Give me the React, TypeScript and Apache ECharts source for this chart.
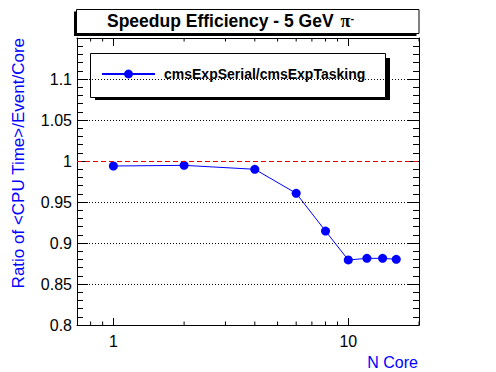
import React, { useEffect, useRef } from "react";
import * as echarts from "echarts";

const nCores = [1, 2, 4, 6, 8, 10, 12, 14, 16];
const ratios = [0.9939, 0.9947, 0.9899, 0.9606, 0.9146, 0.8793, 0.8813, 0.8813, 0.8801];
const seriesName = "cmsExpSerial/cmsExpTasking";
const xMinorTicks = [0.8, 0.9, 2, 3, 4, 5, 6, 7, 8, 9, 20];
const gridValues = [0.85, 0.9, 0.95, 1.05, 1.1];
const refValue = 1.0;
const yMin = 0.8;
const yMax = 1.15;
const xMin = 0.7;
const xMax = 20;

const FONT = "'Liberation Sans', Arial, Helvetica, sans-serif";

export default function App() {
  const ref = useRef<HTMLDivElement>(null);
  useEffect(() => {
    if (!ref.current) return;
    const chart = echarts.init(ref.current, undefined, { renderer: "svg" });
    const axisLine = { show: true, lineStyle: { color: "#000000", width: 1 } };
    const labelStyle = { fontFamily: FONT, fontSize: 16, color: "#000000" };
    const option: any = {
      animation: false,
      backgroundColor: "#ffffff",
      textStyle: { color: "#000000", fontFamily: FONT },
      grid: { left: 77, right: 77, top: 38, bottom: 47, containLabel: false },
      title: {
        text: "{a|Speedup Efficiency - 5 GeV} {pi|π}{s|-}",
        left: 107,
        top: 12,
        padding: 0,
        textStyle: {
          rich: {
            a: { fontFamily: FONT, fontWeight: "bold", fontSize: 17.5, color: "#000000" },
            pi: { fontFamily: "'Liberation Serif', serif", fontSize: 18, color: "#000000", padding: [0, 0, 0, 2] },
            s: { fontFamily: FONT, fontSize: 11, color: "#000000", verticalAlign: "top", padding: [0, 0, 6, 0] },
          },
        },
      },
      legend: {
        data: [seriesName],
        left: 101,
        top: 67,
        itemWidth: 53,
        itemHeight: 11,
        padding: 0,
        textStyle: { fontFamily: FONT, fontWeight: "bold", fontSize: 14, color: "#000000", padding: [0, 0, 0, 4] },
      },
      xAxis: [
        {
          type: "log",
          logBase: 10,
          min: xMin,
          max: xMax,
          position: "bottom",
          axisLine,
          axisTick: { show: true, inside: true, length: 7, lineStyle: { color: "#000000" } },
          axisLabel: { ...labelStyle, margin: 8, showMinLabel: false, showMaxLabel: false },
          splitLine: { show: false },
        },
        {
          type: "log",
          logBase: 10,
          min: xMin,
          max: xMax,
          position: "top",
          axisLine,
          axisTick: { show: true, inside: true, length: 8, lineStyle: { color: "#000000" } },
          axisLabel: { show: false },
          splitLine: { show: false },
        },
      ],
      yAxis: [
        {
          type: "value",
          min: yMin,
          max: yMax,
          interval: 0.05,
          position: "left",
          axisLine,
          axisTick: { show: true, inside: true, length: 11, lineStyle: { color: "#000000" } },
          minorTick: { show: true, splitNumber: 5, length: 6, lineStyle: { color: "#000000" } },
          axisLabel: { ...labelStyle, margin: 5, showMaxLabel: false },
          splitLine: { show: false },
        },
        {
          type: "value",
          min: yMin,
          max: yMax,
          interval: 0.05,
          position: "right",
          axisLine,
          axisTick: { show: true, inside: true, length: 11, lineStyle: { color: "#000000" } },
          minorTick: { show: true, splitNumber: 5, length: 6, lineStyle: { color: "#000000" } },
          axisLabel: { show: false },
          splitLine: { show: false },
        },
      ],
      graphic: [
        { type: "rect", z: 0, shape: { x: 74, y: 11.5, width: 342.5, height: 24.5 }, style: { fill: "#000000" } },
        { type: "rect", z: 1, shape: { x: 76.5, y: 9.5, width: 342.5, height: 24 }, style: { fill: "#ffffff", stroke: "#000000", lineWidth: 1 } },
        { type: "rect", z: 3, shape: { x: 95, y: 58, width: 295, height: 42 }, style: { fill: "#000000" } },
        { type: "rect", z: 3, shape: { x: 90.5, y: 53.5, width: 295, height: 44 }, style: { fill: "#ffffff", stroke: "#000000", lineWidth: 1 } },
        {
          type: "text",
          x: 18.5,
          y: 38,
          rotation: Math.PI / 2,
          style: {
            text: "Ratio of <CPU Time>/Event/Core",
            fontFamily: FONT,
            fontSize: 17,
            fill: "#0000ff",
            align: "right",
            verticalAlign: "middle",
          },
        },
        {
          type: "text",
          x: 418,
          y: 362,
          style: {
            text: "N Core",
            fontFamily: FONT,
            fontSize: 16,
            fill: "#0000ff",
            align: "right",
            verticalAlign: "middle",
          },
        },
      ],
      series: [
        {
          type: "line",
          name: "grid",
          data: [],
          z: 1,
          silent: true,
          markLine: {
            silent: true,
            symbol: ["none", "none"],
            label: { show: false },
            lineStyle: { color: "#000000", width: 1, type: [1, 2] },
            data: gridValues.map((v) => ({ yAxis: v })),
          },
        },
        {
          type: "line",
          name: "reference",
          data: [],
          z: 1,
          silent: true,
          markLine: {
            silent: true,
            symbol: ["none", "none"],
            label: { show: false },
            lineStyle: { color: "#e00000", width: 1, type: [5, 3] },
            data: [{ yAxis: refValue }],
          },
        },
        {
          type: "custom",
          name: "minorTicks",
          silent: true,
          z: 5,
          data: xMinorTicks.map((v) => [v, yMin]),
          renderItem: (params: any, api: any) => {
            const v = api.value(0);
            const b = api.coord([v, yMin]);
            const t = api.coord([v, yMax]);
            return {
              type: "group",
              children: [
                { type: "line", shape: { x1: b[0], y1: b[1], x2: b[0], y2: b[1] - 3.5 }, style: { stroke: "#000000", lineWidth: 1 } },
                { type: "line", shape: { x1: t[0], y1: t[1], x2: t[0], y2: t[1] + 3.5 }, style: { stroke: "#000000", lineWidth: 1 } },
              ],
            };
          },
        },
        {
          type: "line",
          name: seriesName,
          data: nCores.map((x, i) => [x, ratios[i]]),
          z: 2,
          symbol: "circle",
          symbolSize: 9,
          itemStyle: { color: "#0000ff" },
          lineStyle: { color: "#0000ff", width: 1 },
        },
      ],
    };
    chart.setOption(option);
    return () => chart.dispose();
  }, []);
  return <div ref={ref} style={{ width: 496, height: 372, position: "absolute", left: 0, top: 0 }} />;
}
